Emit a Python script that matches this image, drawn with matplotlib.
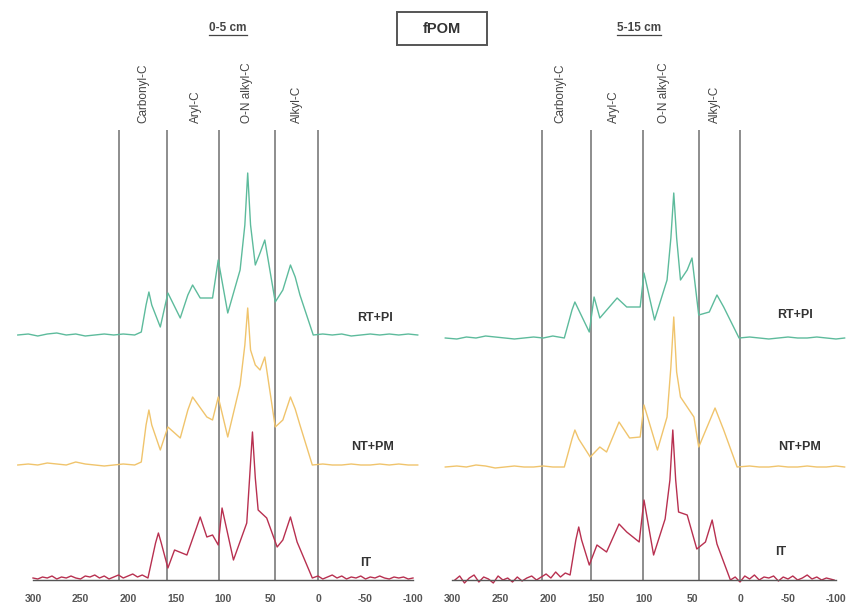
import matplotlib.pyplot as plt
from matplotlib.patches import Rectangle
from matplotlib.lines import Line2D

plt.rcParams['font.family'] = ['Liberation Sans', 'DejaVu Sans']
plt.rcParams['axes.unicode_minus'] = False

# 13C CP-MAS spectra of fPOM, chemical shift (ppm) vs. intensity (a.u.)
# ---- 0-5 cm ----
ppm_rt_05 = [316, 305, 295, 285, 275, 265, 255, 245, 235, 225, 215, 205, 193,
             186, 181, 178, 175, 166, 158, 145, 137, 132, 124, 111, 105, 95, 82, 77,
             74, 71, 66, 61, 56, 45, 37, 29, 24, 19, 5, -5, -15, -25, -35, -45,
             -55, -65, -75, -85, -95, -105]
int_rt_05 = [0, 1, -1, 1, 2, 0, 1, -1, 0, 1, 0, 1, 0,
             3, 30, 43, 30, 8, 42, 17, 40, 50, 37, 37, 75, 22, 65, 110,
             162, 110, 70, 82, 95, 33, 45, 70, 58, 40, 0, 1, 0, 1, -1, 0,
             1, 0, 1, 0, 1, 0]

ppm_nt_05 = [316, 305, 295, 285, 275, 265, 255, 245, 235, 225, 215, 205, 193,
             186, 181, 178, 175, 166, 158, 145, 137, 132, 117, 111, 105, 95, 82, 77,
             74, 71, 66, 61, 56, 45, 37, 29, 24, 19, 6, -5, -15, -25, -35, -45,
             -55, -65, -75, -85, -95, -105]
int_nt_05 = [0, 1, 0, 2, 1, 0, 3, 1, 0, -1, 0, 1, 0,
             3, 40, 55, 40, 15, 38, 27, 55, 68, 48, 45, 68, 28, 80, 120,
             157, 115, 100, 95, 108, 38, 45, 68, 56, 40, 0, 1, 0, 0, 1, 0,
             0, 1, 0, 1, 0, 0]

ppm_it_05 = [300, 295, 290, 285, 280, 275, 270, 265, 260, 255, 250, 245, 240, 235,
             230, 225, 220, 215, 210, 205, 200, 195, 190, 185, 179,
             171, 168, 165, 158, 151, 138, 128, 124, 117, 111, 105, 101, 89, 75, 72,
             69, 66, 63, 54, 43, 37, 29, 22, 6, 0, -5, -10, -15, -20, -25, -30,
             -35, -40, -45, -50, -55, -60, -65, -70, -75, -80, -85, -90, -95, -100]
int_it_05 = [0, -1, 1, 0, 2, -1, 1, 0, 2, 0, -1, 2, 1, 3,
             0, 2, -1, 1, 3, 0, 2, 4, 1, 3, 0,
             35, 45, 35, 10, 28, 23, 50, 61, 41, 43, 33, 70, 18, 55, 100,
             146, 100, 68, 60, 31, 38, 61, 36, 0, 2, -1, 1, 3, 0, 2, -1,
             1, 0, 2, -1, 1, 0, 2, 0, -1, 1, 0, 1, -1, 0]

# ---- 5-15 cm ----
ppm_rt_515 = [307, 295, 285, 275, 265, 255, 245, 235, 225, 215, 205, 195, 183,
              175, 172, 168, 157, 152, 146, 128, 118, 104, 100, 89, 76, 72, 69, 66,
              62, 55, 50, 43, 32, 24, 17, 1, -10, -20, -30, -40, -50, -60, -70,
              -80, -90, -100, -109]
int_rt_515 = [0, -1, 1, 0, 2, 1, 0, -1, 0, 1, 0, 2, 0,
              28, 36, 28, 6, 41, 20, 40, 31, 31, 65, 18, 58, 100, 145, 100,
              58, 68, 80, 23, 26, 43, 31, 0, 1, 0, -1, 0, 1, 0, 0,
              1, 0, -1, 0]

ppm_nt_515 = [307, 295, 285, 275, 265, 255, 245, 235, 225, 215, 205, 195, 183,
              175, 172, 168, 156, 146, 139, 126, 115, 104, 100, 86, 76, 72, 69, 66,
              62, 48, 43, 26, 17, 3, -10, -20, -30, -40, -50, -60, -70, -80, -90,
              -100, -109]
int_nt_515 = [0, 1, 0, 2, 1, -1, 0, 1, 0, 0, 1, 0, 0,
              28, 37, 28, 10, 20, 15, 45, 29, 30, 62, 17, 50, 100, 150, 95,
              70, 50, 20, 59, 37, 0, 1, 0, 0, 1, 0, 0, 1, 0, 0,
              1, 0]

ppm_it_515 = [297, 292, 287, 282, 277, 272, 267, 262, 257, 252, 247, 242, 237, 232,
              227, 222, 217, 212, 207, 202, 197, 192, 187, 182, 177,
              171, 168, 165, 157, 149, 139, 126, 118, 105, 100, 90, 78, 73, 70, 67,
              64, 55, 45, 36, 29, 24, 10, 5, 0, -5, -10, -15, -20, -25, -30, -35,
              -40, -45, -50, -55, -60, -65, -70, -75, -80, -85, -90, -98]
int_it_515 = [0, 4, -3, 2, 5, -2, 3, 1, -3, 4, 0, 2, -2, 3,
              -1, 2, 4, 0, 3, 6, 2, 8, 3, 7, 5,
              40, 53, 40, 15, 35, 28, 56, 48, 38, 80, 25, 61, 100, 150, 100,
              68, 65, 31, 38, 60, 36, 0, 3, -2, 4, 1, 5, 0, 3, 2, 4,
              -1, 3, 1, 4, 0, 2, 5, 1, 3, 0, 2, 0]

series_labels = ['RT+PI', 'NT+PM', 'IT']
colors = ['#5dbb9c', '#f0c46c', '#b83050']
regions = ['Carbonyl-C', 'Aryl-C', 'O-N alkyl-C', 'Alkyl-C']
xticks = [300, 250, 200, 150, 100, 50, 0, -50, -100]

panels = [
    dict(title='0-5 cm', rect=[33 / 848, 24 / 604, 380 / 848, 520 / 604],
         spectra=[(ppm_rt_05, int_rt_05), (ppm_nt_05, int_nt_05), (ppm_it_05, int_it_05)],
         offsets=[245, 115, 2], bounds=[209, 159, 104, 45, 0],
         region_x=[184, 128, 75, 22],
         label_pos=[(-60, 262), (-57, 133), (-50, 17)]),
    dict(title='5-15 cm', rect=[452 / 848, 24 / 604, 384 / 848, 520 / 604],
         spectra=[(ppm_rt_515, int_rt_515), (ppm_nt_515, int_nt_515), (ppm_it_515, int_it_515)],
         offsets=[242, 113, 0], bounds=[206, 155, 101, 43, 0],
         region_x=[187, 131, 79, 26],
         label_pos=[(-57, 265), (-62, 133), (-42, 28)]),
]

fig = plt.figure(figsize=(8.48, 6.04), dpi=100)

for p in panels:
    ax = fig.add_axes(p['rect'])
    ax.set_xlim(300, -100)
    ax.set_ylim(0, 520)
    ax.vlines(p['bounds'], 0, 450, colors='#858585', lw=1.3, zorder=1)
    for (x, y), off, c in zip(p['spectra'], p['offsets'], colors):
        ax.plot(x, [v + off for v in y], color=c, lw=1.0, clip_on=False, zorder=2)
    for name, xr in zip(regions, p['region_x']):
        ax.text(xr, 457, name, rotation=90, ha='center', va='bottom',
                fontsize=8.5, color='#444444')
    for name, (lx, ly) in zip(series_labels, p['label_pos']):
        ax.text(lx, ly, name, ha='center', va='center', fontsize=9,
                fontweight='bold', color='#333333')
    for s in ['top', 'left', 'right']:
        ax.spines[s].set_visible(False)
    ax.spines['bottom'].set_color('#555555')
    ax.spines['bottom'].set_linewidth(1.0)
    ax.set_yticks([])
    ax.set_xticks(xticks)
    ax.tick_params(axis='x', length=0, pad=10, labelsize=7.5, labelcolor='#555555')
    for t in ax.get_xticklabels():
        t.set_fontweight('bold')
    ax.patch.set_alpha(0)

# depth headings, underlined
titles = [fig.text(228 / 848, 1 - 28 / 604, panels[0]['title'], ha='center', va='center',
                   fontsize=8.5, color='#444444', fontweight='bold'),
          fig.text(639 / 848, 1 - 28 / 604, panels[1]['title'], ha='center', va='center',
                   fontsize=8.5, color='#444444', fontweight='bold')]
fig.canvas.draw()
inv = fig.transFigure.inverted()
for t in titles:
    bb = t.get_window_extent().transformed(inv)
    fig.add_artist(Line2D([bb.x0, bb.x1], [bb.y0 - 0.002, bb.y0 - 0.002],
                          color='#444444', lw=0.9, transform=fig.transFigure))

# boxed fraction label
fig.add_artist(Rectangle((397 / 848, 1 - 45 / 604), 90 / 848, 33 / 604,
                         transform=fig.transFigure, fill=False, ec='#555555', lw=1.4))
fig.text(442 / 848, 1 - 29 / 604, 'fPOM', ha='center', va='center',
         fontsize=10.5, fontweight='bold', color='#333333')

fig.savefig('out.png', dpi=100)
